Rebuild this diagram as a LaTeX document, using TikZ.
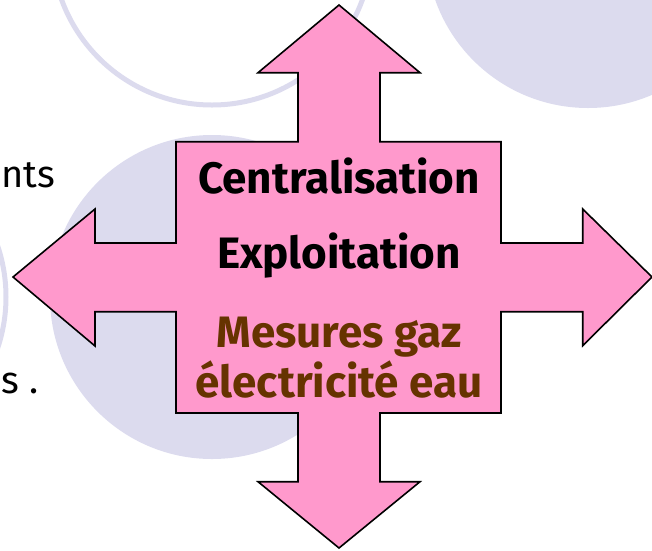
\documentclass[tikz,border=0pt]{standalone}
\usepackage{fontspec}
\setmainfont{Fira Sans}
\usetikzlibrary{positioning}
\definecolor{lavande}{RGB}{220,219,238}
\definecolor{rose}{RGB}{255,153,204}
\definecolor{brun}{RGB}{102,51,0}

\begin{document}
\begin{tikzpicture}[
  x=1pt, y=-1pt,
  ring/.style={draw=lavande, line width=5pt},
  disc/.style={fill=lavande},
  quad/.style={draw=black, fill=rose, line width=1.6pt, line join=miter},
  lbl/.style={font=\fontsize{44}{50}\selectfont\bfseries, anchor=base, inner sep=0pt},
  side/.style={font=\fontsize{38}{44}\selectfont, anchor=base west, inner sep=0pt}
]
\useasboundingbox (0,0) rectangle (652,550);
\clip (0,0) rectangle (652,550);
% background circles
\draw[ring] (212,-55) circle[radius=160pt];
\fill[disc] (588,-54) circle[radius=162pt];
\fill[disc] (212,297) circle[radius=162pt];
\draw[ring] (-154,297) circle[radius=160pt];
% cut words at the left border
\node[side] (txta) at (1.5,187) {nts};
\node[side] (txtb) at (1,393) {s .};
% four-way arrow
\draw[quad] (339,5) -- (420,72.7) -- (380,72.7) -- (380,141.7) -- (501,141.7)
  -- (501,243) -- (582.7,243) -- (582.7,209) -- (652,277) -- (582.7,345.7)
  -- (582.7,311.7) -- (501,311.7) -- (501,413) -- (380,413) -- (380,481.7)
  -- (420,481.7) -- (339,548) -- (258,481.7) -- (298,481.7) -- (298,413)
  -- (176,413) -- (176,311.7) -- (95,311.7) -- (95,346) -- (13,277)
  -- (95,209) -- (95,243) -- (176,243) -- (176,141.7) -- (298,141.7)
  -- (298,72.7) -- (258,72.7) -- cycle;
\node[lbl] (cen) at (339,193) {Centralisation};
\node[lbl] (expl) at (339,268) {Exploitation};
\node[lbl, text=brun] (mes) at (339,347) {Mesures gaz};
\node[lbl, text=brun] (elec) at (339,397) {électricité eau};
\end{tikzpicture}
\end{document}
